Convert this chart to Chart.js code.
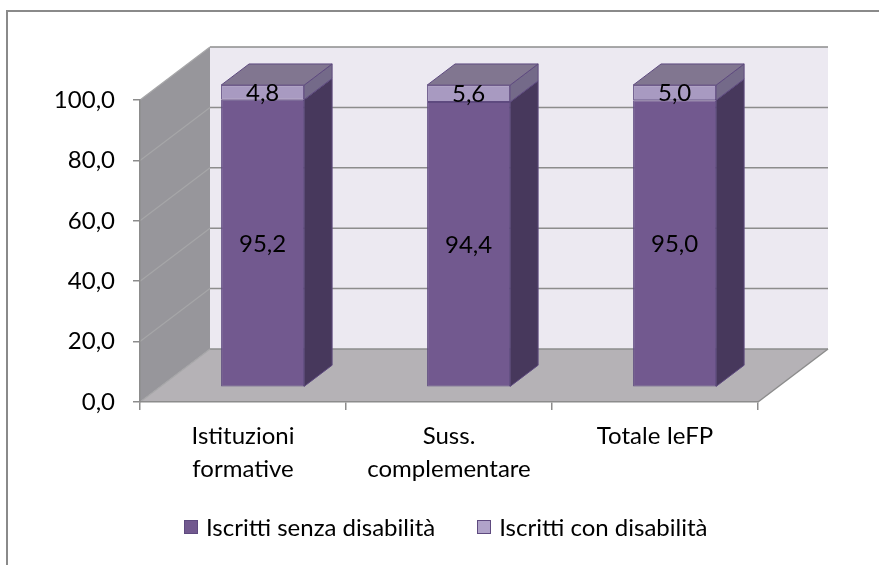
<!DOCTYPE html>
<html><head><meta charset="utf-8">
<script src="https://cdn.jsdelivr.net/npm/chart.js@4.4.1/dist/chart.umd.min.js"></script>
<style>
html,body{margin:0;padding:0;background:#fff;overflow:hidden;}
#wrap{position:relative;width:879px;height:565px;overflow:hidden;}
#frame{position:absolute;left:6px;top:10px;width:900px;height:600px;border-left:2px solid #8a8a8a;border-top:2px solid #8a8a8a;}
#c{position:absolute;left:0;top:0;}
#legend{position:absolute;left:184px;top:512px;display:flex;align-items:center;font-family:Lato,sans-serif;font-size:24px;color:#000;white-space:nowrap;}
#legend .it{display:flex;align-items:center;margin-right:42px;}
#legend .sq{width:14px;height:14px;margin-right:8px;box-sizing:border-box;border:1px solid #5E4A7F;}
</style></head>
<body><div id="wrap"><div id="frame"></div><canvas id="c" width="879" height="565"></canvas><div id="legend"></div></div>
<script>
// ---- data ----
const categories = [["Istituzioni","formative"],["Suss.","complementare"],["Totale IeFP"]];
const seriesNames = ["Iscritti senza disabilità","Iscritti con disabilità"];
const senzaDisabilita = [95.2, 94.4, 95.0];
const conDisabilita = [4.8, 5.6, 5.0];
const yTicks = [0, 20, 40, 60, 80, 100];

// ---- style ----
const FRONT = ['#72598F', '#A89AC1'];
const SIDE = ['#47385C', '#746A89'];
const TOPC = '#817690';
const EDGE = '#5E4A7F';
const LEG = ['#72598F', '#B0A3C9'];
const DX = 70, DY = -53;          // wall depth
const FDX = 0.28 * DX, FDY = 0.28 * DY;  // bar front offset
const BDX = 0.4 * DX, BDY = 0.4 * DY;    // bar depth
const FONT = 'Lato, sans-serif';
const fmt = v => Number(v).toFixed(1).replace('.', ',');

function poly(ctx, pts, fill, stroke, lw) {
  ctx.beginPath();
  ctx.moveTo(pts[0][0], pts[0][1]);
  for (let i = 1; i < pts.length; i++) ctx.lineTo(pts[i][0], pts[i][1]);
  ctx.closePath();
  if (fill) { ctx.fillStyle = fill; ctx.fill(); }
  if (stroke) { ctx.strokeStyle = stroke; ctx.lineWidth = lw || 1; ctx.stroke(); }
}
function line(ctx, x1, y1, x2, y2, c, w) {
  ctx.beginPath(); ctx.moveTo(x1, y1); ctx.lineTo(x2, y2);
  ctx.strokeStyle = c; ctx.lineWidth = w; ctx.stroke();
}

const threeD = {
  id: 'threeD',
  beforeDraw(chart) {
    const {ctx, chartArea: {left, right, top, bottom}, scales: {y}} = chart;
    ctx.save();
    poly(ctx, [[left, top], [left + DX, top + DY], [left + DX, bottom + DY], [left, bottom]], '#97969B');
    poly(ctx, [[left, bottom], [right, bottom], [right + DX, bottom + DY], [left + DX, bottom + DY]], '#B5B2B6');
    ctx.fillStyle = '#ECE9F1';
    ctx.fillRect(left + DX, top + DY, right - left, bottom - top);
    yTicks.forEach(v => {
      const py = y.getPixelForValue(v);
      line(ctx, left + DX, py + DY, right + DX, py + DY, '#8C8C8C', 1.5);
      line(ctx, left, py, left + DX, py + DY, '#A6A6A8', 1.2);
    });
    line(ctx, right, bottom, right + DX, bottom + DY, '#8C8C8C', 1.5);
    ctx.restore();
  },
  beforeDatasetsDraw(chart) {
    const ctx = chart.ctx;
    const n = chart.data.datasets.length;
    ctx.save();
    chart.data.datasets.forEach((ds, di) => {
      chart.getDatasetMeta(di).data.forEach(el => {
        const p = el.getProps(['x', 'y', 'base', 'width'], true);
        const x1 = p.x - p.width / 2 + FDX, x2 = p.x + p.width / 2 + FDX;
        const t = Math.min(p.y, p.base) + FDY, b = Math.max(p.y, p.base) + FDY;
        poly(ctx, [[x2, t], [x2 + BDX, t + BDY], [x2 + BDX, b + BDY], [x2, b]], SIDE[di], EDGE, 1);
        if (di === n - 1) {
          poly(ctx, [[x1, t], [x2, t], [x2 + BDX, t + BDY], [x1 + BDX, t + BDY]], TOPC, EDGE, 1);
        }
      });
    });
    ctx.restore();
  },
  beforeDatasetDraw(chart) { chart.ctx.save(); chart.ctx.translate(FDX, FDY); },
  afterDatasetDraw(chart) { chart.ctx.restore(); },
  afterDatasetsDraw(chart) {
    const ctx = chart.ctx;
    ctx.save();
    ctx.font = '24px ' + FONT;
    ctx.fillStyle = '#000';
    ctx.textAlign = 'center';
    ctx.textBaseline = 'middle';
    chart.data.datasets.forEach((ds, di) => {
      chart.getDatasetMeta(di).data.forEach((el, i) => {
        const p = el.getProps(['x', 'y', 'base'], true);
        ctx.fillText(fmt(ds.data[i]), p.x + FDX, (p.y + p.base) / 2 + FDY + 1);
      });
    });
    ctx.restore();
  }
};

new Chart(document.getElementById('c'), {
  type: 'bar',
  data: {
    labels: categories,
    datasets: [
      {label: seriesNames[0], data: senzaDisabilita, backgroundColor: FRONT[0], borderColor: EDGE, borderWidth: 1, borderSkipped: false, clip: false},
      {label: seriesNames[1], data: conDisabilita, backgroundColor: FRONT[1], borderColor: EDGE, borderWidth: 1, borderSkipped: false, clip: false}
    ]
  },
  options: {
    responsive: false, animation: false, devicePixelRatio: 1,
    categoryPercentage: 1, barPercentage: 0.403,
    layout: {padding: {left: 0, top: 100, right: 121, bottom: 0}},
    plugins: {legend: {display: false}, tooltip: {enabled: false}},
    scales: {
      x: {
        stacked: true,
        grid: {offset: true, drawOnChartArea: false, drawTicks: true, tickLength: 8, color: '#8C8C8C', lineWidth: 1.5},
        border: {color: '#8C8C8C', width: 1.5},
        ticks: {font: {family: FONT, size: 24, lineHeight: 1.37}, color: '#000', padding: 10, maxRotation: 0, autoSkip: false},
        afterFit(s) { s.height = 163; }
      },
      y: {
        stacked: true, min: 0, max: 100,
        afterBuildTicks(s) { s.ticks = yTicks.map(v => ({value: v})); },
        grid: {drawOnChartArea: false, drawTicks: true, tickLength: 7, color: '#8C8C8C', lineWidth: 1.5},
        border: {color: '#8C8C8C', width: 1.5},
        ticks: {callback: v => fmt(v), font: {family: FONT, size: 24}, color: '#000', padding: 18},
        afterFit(s) { s.width = 140; }
      }
    }
  },
  plugins: [threeD]
});

// legend (HTML) built from the series names
const lg = document.getElementById('legend');
seriesNames.forEach((name, i) => {
  const it = document.createElement('div'); it.className = 'it';
  const sq = document.createElement('div'); sq.className = 'sq'; sq.style.background = LEG[i];
  const tx = document.createElement('span'); tx.textContent = name;
  it.appendChild(sq); it.appendChild(tx); lg.appendChild(it);
});
</script>
</body></html>
